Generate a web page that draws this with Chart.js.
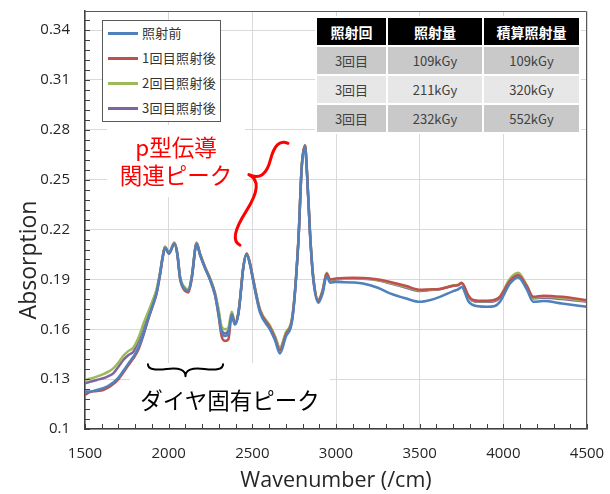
<!DOCTYPE html>
<html>
<head>
<meta charset="utf-8">
<script src="https://cdn.jsdelivr.net/npm/chart.js@4"></script>
<style>
  body { margin: 0; background: #fff; }
  #wrap { position: relative; width: 610px; height: 494px; font-family: "Noto Sans CJK JP", sans-serif; }
  #canvas { position: absolute; left: 0; top: 0; }
  .legend { position: absolute; left: 102px; top: 20px; width: 117px; height: 100px; border: 1px solid #595959; background: #fff; }
  .legend .row { position: absolute; left: 0; height: 20px; width: 117px; }
  .legend .swatch { position: absolute; left: 5px; top: 9px; width: 30px; height: 2.5px; }
  .legend .txt { position: absolute; left: 39px; top: 0; font-size: 13px; line-height: 20px; color: #333; white-space: nowrap; letter-spacing: 0.3px; }
  table.dose { position: absolute; left: 315px; top: 16px; border-spacing: 2px; background: #fff; font-size: 13px; }
  table.dose td, table.dose th { padding: 0; text-align: center; color: #404040; font-weight: normal; }
  table.dose th { background: #000; color: #fff; font-weight: bold; font-size: 14px; height: 27px; }
  table.dose td { height: 27px; }
  .note { position: absolute; text-align: center; font-size: 22.5px; line-height: 28px; white-space: nowrap; }
</style>
</head>
<body>
<div id="wrap">
  <canvas id="canvas" width="610" height="494"></canvas>
</div>
<script>
document.addEventListener('DOMContentLoaded', e => {

const seriesNames = ['照射前', '1回目照射後', '2回目照射後', '3回目照射後']
const seriesColors = ['#4F81BD', '#C0504D', '#9BBB59', '#8064A2']

// wavenumber (/cm)
const wavenumber = [
  1500, 1530, 1570, 1609, 1640, 1669, 1700, 1729, 1760, 1789,
  1820, 1848, 1878, 1908, 1928, 1948, 1964, 1978, 2002, 2034,
  2052, 2068, 2098, 2118, 2138, 2167, 2187, 2217, 2247, 2277,
  2297, 2317, 2337, 2357, 2377, 2396, 2416, 2426, 2446, 2466,
  2486, 2506, 2546, 2606, 2635, 2665, 2700, 2740, 2775, 2795,
  2815, 2825, 2845, 2864, 2894, 2920, 2944, 2965, 3000, 3100,
  3161, 3250, 3323, 3420, 3502, 3560, 3621, 3701, 3730, 3751,
  3790, 3811, 3850, 3901, 3950, 3980, 4040, 4089, 4140, 4179,
  4239, 4350, 4500
]

const before = [
  0.1225, 0.1225, 0.1235, 0.1245, 0.1260, 0.1280, 0.1310, 0.1350, 0.1395, 0.1435,
  0.1490, 0.1570, 0.1665, 0.1755, 0.1820, 0.1928, 0.2030, 0.2090, 0.2055, 0.2115,
  0.2050, 0.1908, 0.1840, 0.1830, 0.1910, 0.2115, 0.2050, 0.1968, 0.1898, 0.1805,
  0.1700, 0.1580, 0.1560, 0.1575, 0.1688, 0.1628, 0.1688, 0.1768, 0.1968, 0.2050,
  0.1988, 0.1885, 0.1700, 0.1598, 0.1535, 0.1455, 0.1555, 0.1665, 0.2125, 0.2570,
  0.2700, 0.2570, 0.2165, 0.1900, 0.1760, 0.1815, 0.1920, 0.1880, 0.1885, 0.1882,
  0.1876, 0.1850, 0.1816, 0.1785, 0.1765, 0.1775, 0.1795, 0.1830, 0.1840, 0.1855,
  0.1770, 0.1750, 0.1738, 0.1735, 0.1740, 0.1765, 0.1875, 0.1912, 0.1840, 0.1765,
  0.1770, 0.1755, 0.1735
]

const after1 = [
  0.1205, 0.1222, 0.1228, 0.1235, 0.1250, 0.1270, 0.1300, 0.1340, 0.1385, 0.1425,
  0.1480, 0.1560, 0.1660, 0.1750, 0.1815, 0.1925, 0.2030, 0.2090, 0.2055, 0.2115,
  0.2048, 0.1905, 0.1830, 0.1822, 0.1905, 0.2115, 0.2050, 0.1970, 0.1900, 0.1808,
  0.1690, 0.1555, 0.1530, 0.1540, 0.1690, 0.1630, 0.1690, 0.1772, 0.1972, 0.2055,
  0.1995, 0.1892, 0.1712, 0.1610, 0.1548, 0.1472, 0.1568, 0.1675, 0.2128, 0.2575,
  0.2705, 0.2575, 0.2172, 0.1910, 0.1772, 0.1830, 0.1935, 0.1900, 0.1905, 0.1910,
  0.1908, 0.1900, 0.1885, 0.1860, 0.1838, 0.1840, 0.1843, 0.1862, 0.1866, 0.1878,
  0.1805, 0.1780, 0.1772, 0.1772, 0.1778, 0.1795, 0.1892, 0.1925, 0.1860, 0.1795,
  0.1802, 0.1795, 0.1775
]

const after2 = [
  0.1295, 0.1302, 0.1315, 0.1330, 0.1345, 0.1365, 0.1400, 0.1440, 0.1470, 0.1490,
  0.1550, 0.1630, 0.1705, 0.1782, 0.1840, 0.1938, 0.2036, 0.2096, 0.2062, 0.2120,
  0.2056, 0.1918, 0.1850, 0.1840, 0.1918, 0.2120, 0.2056, 0.1975, 0.1908, 0.1820,
  0.1725, 0.1615, 0.1600, 0.1610, 0.1705, 0.1640, 0.1700, 0.1778, 0.1975, 0.2056,
  0.1996, 0.1898, 0.1720, 0.1620, 0.1560, 0.1490, 0.1580, 0.1685, 0.2132, 0.2578,
  0.2705, 0.2578, 0.2180, 0.1920, 0.1780, 0.1835, 0.1940, 0.1898, 0.1902, 0.1906,
  0.1905, 0.1897, 0.1880, 0.1855, 0.1835, 0.1838, 0.1843, 0.1863, 0.1868, 0.1880,
  0.1800, 0.1775, 0.1768, 0.1768, 0.1775, 0.1798, 0.1905, 0.1940, 0.1865, 0.1790,
  0.1795, 0.1788, 0.1770
]

const after3 = [
  0.1275, 0.1284, 0.1295, 0.1305, 0.1318, 0.1335, 0.1375, 0.1415, 0.1445, 0.1465,
  0.1530, 0.1615, 0.1695, 0.1775, 0.1835, 0.1936, 0.2036, 0.2096, 0.2060, 0.2120,
  0.2056, 0.1915, 0.1846, 0.1835, 0.1915, 0.2120, 0.2056, 0.1975, 0.1906, 0.1816,
  0.1715, 0.1595, 0.1575, 0.1595, 0.1695, 0.1635, 0.1695, 0.1775, 0.1975, 0.2056,
  0.1996, 0.1896, 0.1715, 0.1615, 0.1555, 0.1485, 0.1575, 0.1680, 0.2130, 0.2576,
  0.2705, 0.2576, 0.2176, 0.1915, 0.1775, 0.1830, 0.1935, 0.1895, 0.1900, 0.1905,
  0.1904, 0.1895, 0.1876, 0.1850, 0.1831, 0.1836, 0.1841, 0.1862, 0.1866, 0.1879,
  0.1800, 0.1775, 0.1765, 0.1765, 0.1770, 0.1790, 0.1890, 0.1925, 0.1855, 0.1785,
  0.1790, 0.1782, 0.1765
]

const xTicks = [1500, 2000, 2500, 3000, 3500, 4000, 4500]
const xTickLabels = ['1500', '2000', '2500', '3000', '3500', '4000', '4500']
const yTicks = [0.1, 0.13, 0.16, 0.19, 0.22, 0.25, 0.28, 0.31, 0.34]
const yTickLabels = ['0.1', '0.13', '0.16', '0.19', '0.22', '0.25', '0.28', '0.31', '0.34']

// irradiation table
const tableHead = ['照射回', '照射量', '積算照射量']
const doseRound = ['3回目', '3回目', '3回目']
const dose = ['109kGy', '211kGy', '232kGy']
const doseTotal = ['109kGy', '320kGy', '552kGy']

const xTitle = 'Wavenumber (/cm)'
const yTitle = 'Absorption'

// text notes with their white backing boxes
const notes = [
  { lines: ['p型伝導', '関連ピーク'], color: '#ff0000', x: 107, y: 125, w: 138, h: 72, pad: 7 },
  { lines: ['ダイヤ固有ピーク'], color: '#000', x: 130, y: 363, w: 200, h: 65, pad: 22 },
]

// braces: ends in data units, depth in px
const braces = [
  { from: [2713, 0.2719], to: [2426, 0.2106], depth: 22, tip: 0.4, color: '#ff0000', width: 3 },
  { from: [1876, 0.1390], to: [2325, 0.1390], depth: 12, tip: 0.5, color: '#000', width: 2 },
]

const wrap = document.getElementById('wrap')

// legend
const legend = document.createElement('div')
legend.className = 'legend'
seriesNames.forEach((name, i) => {
  const row = document.createElement('div')
  row.className = 'row'
  row.style.top = (2 + i * 25) + 'px'
  row.innerHTML = `<span class="swatch" style="background:${seriesColors[i]}"></span><span class="txt">${name}</span>`
  legend.appendChild(row)
})
wrap.appendChild(legend)

// table
const table = document.createElement('table')
table.className = 'dose'
const colW = [69, 94, 95]
let html = '<tr>' + tableHead.map((h, i) => `<th style="width:${colW[i]}px">${h}</th>`).join('') + '</tr>'
const rowBg = ['#c9c9c9', '#e7e7e7', '#c9c9c9']
doseRound.forEach((r, i) => {
  html += `<tr style="background:${rowBg[i]}"><td>${r}</td><td>${dose[i]}</td><td>${doseTotal[i]}</td></tr>`
})
table.innerHTML = html
wrap.appendChild(table)

// notes
notes.forEach(n => {
  const d = document.createElement('div')
  d.className = 'note'
  d.style.left = n.x + 'px'
  d.style.top = (n.y + n.pad) + 'px'
  d.style.width = n.w + 'px'
  d.style.color = n.color
  d.innerHTML = n.lines.join('<br>')
  wrap.appendChild(d)
})

function drawBrace(ctx, x1, y1, x2, y2, w, t, q) {
  const len = Math.hypot(x2 - x1, y2 - y1)
  const dx = (x1 - x2) / len, dy = (y1 - y2) / len
  const at = (f, off) => [x1 - f * len * dx + off * dy, y1 - f * len * dy - off * dx]
  const [ax, ay] = at(0, q * w)
  const [bx, by] = at(t / 2, (1 - q) * w)
  const [tx, ty] = at(t, w)
  const [cx, cy] = at(1, q * w)
  const [ex, ey] = at((1 + t) / 2, (1 - q) * w)
  ctx.beginPath()
  ctx.moveTo(x1, y1)
  ctx.quadraticCurveTo(ax, ay, bx, by)
  ctx.quadraticCurveTo(2 * bx - ax, 2 * by - ay, tx, ty)
  ctx.moveTo(x2, y2)
  ctx.quadraticCurveTo(cx, cy, ex, ey)
  ctx.quadraticCurveTo(2 * ex - cx, 2 * ey - cy, tx, ty)
  ctx.stroke()
}

const extras = {
  id: 'extras',
  beforeDatasetsDraw(chart) {
    const ctx = chart.ctx
    ctx.save()
    ctx.fillStyle = '#fff'
    notes.forEach(n => ctx.fillRect(n.x, n.y, n.w, n.h))
    ctx.restore()
  },
  afterDatasetsDraw(chart) {
    const {ctx, scales: {x, y}} = chart
    ctx.save()
    ctx.lineCap = 'round'
    braces.forEach(b => {
      ctx.strokeStyle = b.color
      ctx.lineWidth = b.width
      drawBrace(ctx,
        x.getPixelForValue(b.from[0]), y.getPixelForValue(b.from[1]),
        x.getPixelForValue(b.to[0]), y.getPixelForValue(b.to[1]),
        b.depth, b.tip, 0.6)
    })
    ctx.restore()
  },
  afterDraw(chart) {
    const {ctx, chartArea: a, scales: {x, y}} = chart
    ctx.save()
    // frame
    ctx.strokeStyle = '#595959'
    ctx.lineWidth = 1
    ctx.beginPath()
    ctx.moveTo(a.left, a.top + 0.5)
    ctx.lineTo(a.right - 0.5, a.top + 0.5)
    ctx.lineTo(a.right - 0.5, a.bottom)
    ctx.stroke()
    // inside tick marks
    ctx.strokeStyle = '#404040'
    ctx.beginPath()
    for (let v = 1500; v <= 4500; v += 100) {
      const px = Math.round(x.getPixelForValue(v)) + 0.5
      ctx.moveTo(px, a.bottom)
      ctx.lineTo(px, a.bottom - 5)
    }
    for (let k = 0; k <= 41; k++) {
      const py = Math.round(y.getPixelForValue(0.1 + k * 0.006)) + 0.5
      ctx.moveTo(a.left, py)
      ctx.lineTo(a.left + 5, py)
    }
    ctx.stroke()
    // y title, sits below the axis middle
    ctx.fillStyle = '#262626'
    ctx.font = '23px "Open Sans"'
    ctx.textAlign = 'center'
    ctx.textBaseline = 'middle'
    ctx.translate(29, 260)
    ctx.rotate(-Math.PI / 2)
    ctx.fillText(yTitle, 0, 0)
    ctx.restore()
  }
}

const context = document.getElementById('canvas').getContext('2d')

new Chart(context, {
  type: 'scatter',
  data: {
    datasets: [before, after1, after2, after3].map((vals, i) => ({
      label: seriesNames[i],
      data: wavenumber.map((w, j) => ({ x: w, y: vals[j] })),
      showLine: true,
      borderColor: seriesColors[i],
      borderWidth: 2.5,
      pointRadius: 0,
      cubicInterpolationMode: 'monotone',
    }))
  },
  options: {
    responsive: false,
    animation: false,
    devicePixelRatio: 1,
    layout: { padding: { top: 11, right: 23, left: 0, bottom: 0 } },
    plugins: {
      legend: { display: false },
      tooltip: { enabled: false },
    },
    scales: {
      x: {
        type: 'linear',
        min: 1500,
        max: 4500,
        afterBuildTicks: axis => { axis.ticks = xTicks.map(v => ({ value: v })) },
        afterFit: axis => {
          axis.height = 65
          axis.paddingLeft = 0
          axis.paddingRight = 0
        },
        grid: { color: '#d9d9d9', drawTicks: false },
        border: { color: '#404040', width: 1.5 },
        ticks: {
          padding: 16,
          color: '#262626',
          font: { size: 15, family: 'Open Sans' },
          callback: (v, i) => xTickLabels[i],
          maxRotation: 0,
        },
        title: {
          display: true,
          text: xTitle,
          color: '#262626',
          font: { size: 21.5, family: 'Open Sans' },
          padding: 0,
        }
      },
      y: {
        min: 0.1,
        max: 0.3515,
        afterBuildTicks: axis => { axis.ticks = yTicks.map(v => ({ value: v })) },
        afterFit: axis => {
          axis.width = 85
          axis.paddingTop = 0
          axis.paddingBottom = 0
        },
        grid: { color: '#d9d9d9', drawTicks: false },
        border: { color: '#404040', width: 1.5 },
        ticks: {
          padding: 15,
          color: '#262626',
          font: { size: 15, family: 'Open Sans' },
          callback: (v, i) => yTickLabels[i],
        }
      }
    }
  },
  plugins: [extras]
})

})
</script>
</body>
</html>
